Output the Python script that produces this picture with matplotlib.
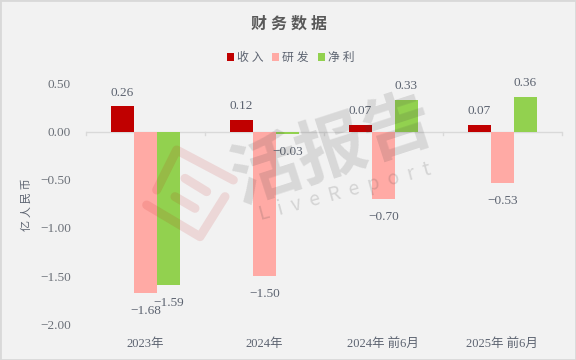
import matplotlib
matplotlib.use("Agg")
import matplotlib.pyplot as plt
import numpy as np
from matplotlib.lines import Line2D
from matplotlib.patches import Rectangle

categories = ['2023年', '2024年', '2024年 前6月', '2025年 前6月']
revenue = [0.26, 0.12, 0.07, 0.07]
rnd = [-1.68, -1.50, -0.70, -0.53]
profit = [-1.59, -0.03, 0.33, 0.36]
yticks = [0.5, 0.0, -0.5, -1.0, -1.5, -2.0]

W, H = 576, 360
BG = '#f2f2f2'
plt.rcParams['font.family'] = ['Liberation Serif', 'Noto Sans CJK SC', 'DejaVu Sans']

fig = plt.figure(figsize=(W / 100, H / 100), dpi=100, facecolor=BG)
fig.add_artist(Rectangle((0, 0), 1, 1, transform=fig.transFigure, fill=False, ec='#d9d9d9', lw=2))

# axes box in pixels
L, R, T, B = 86, 561.7, 83.3, 324.3
ax = fig.add_axes([L / W, 1 - B / H, (R - L) / W, (B - T) / H])
ax.set_facecolor('none')
ax.set_xlim(0, 4)
ax.set_ylim(-2, 0.5)
for s in ax.spines.values():
    s.set_visible(False)

x = np.arange(4) + 0.5
w = 0.193
series = [(revenue, '#c00000', -w), (rnd, '#ffaaa5', 0), (profit, '#92d14f', w)]
text_c = '#5c6370'
for vals, col, off in series:
    ax.bar(x + off, vals, w, color=col, zorder=2)

# axis line, ticks hang below zero
ax.axhline(0, color='#d9d9d9', lw=1, zorder=1)
for i in range(5):
    ax.plot([i, i], [0, -0.035], color='#d9d9d9', lw=1, zorder=1, clip_on=False)

for vals, col, off in series:
    for xi, v in zip(x + off, vals):
        s = f'{v:.2f}'.replace('-', '\u2212')
        dy = 13.5 if v >= 0 else -18
        ax.annotate(s, (xi, v), xytext=(0, dy), textcoords='offset pixels', ha='center', va='center',
                    fontsize=9.5, color=text_c, zorder=4)

ax.set_xticks([])
ax.set_yticks([])
for t in yticks:
    ax.annotate(f'{t:.2f}'.replace('-', '\u2212'), (0, t), xytext=(-15, -1.5), textcoords='offset pixels',
                ha='right', va='center', fontsize=9.5, color='#6b7078', annotation_clip=False)
for xi, c in zip(x, categories):
    fig.text((L + xi * (R - L) / 4) / W, 1 - 344 / H, c, ha='center', va='center',
             fontsize=9, color=text_c)

fig.text(27 / W, 1 - 205 / H, '亿 人 民 币', rotation=90, ha='center', va='center', fontsize=8, color=text_c)
fig.text(289 / W, 1 - 25 / H, '财 务 数 据', ha='center', va='center', fontsize=11.5, color='#595959',
         fontweight='bold')

# legend
for lx, col, name in [(227, '#c00000', '收 入'), (272, '#ffaaa5', '研 发'), (318, '#92d14f', '净 利')]:
    fig.add_artist(Rectangle((lx / W, 1 - 60.5 / H), 7 / W, 7 / H, transform=fig.transFigure, fc=col, ec='none'))
    fig.text((lx + 10) / W, 1 - 58 / H, name, ha='left', va='center', fontsize=8.5, color=text_c)

# watermark
wm = ['Noto Sans CJK SC', 'DejaVu Sans']
fig.text(332 / W, 1 - 150 / H, '活报告', rotation=18, ha='center', va='center', fontsize=50, family=wm,
         fontweight='bold', color='#404040', alpha=0.15, zorder=5)
fig.text(345 / W, 1 - 192 / H, 'L  i  v  e  R  e  p  o  r  t', rotation=15, ha='center', va='center', fontsize=14,
         family=wm, color='#404040', alpha=0.17, zorder=5)

strokes = [[(50, 300), (110, 180), (280, 270)],
           [(20, 345), (180, 440), (255, 320)],
           [(135, 265), (200, 305)],
           [(105, 320), (165, 355)]]
for st in strokes:
    xs = [(140 + p[0] / 3) / W for p in st]
    ys = [1 - (90 + p[1] / 3) / H for p in st]
    fig.add_artist(Line2D(xs, ys, transform=fig.transFigure, color='#c00000', alpha=0.11, lw=6.5,
                          solid_capstyle='round', solid_joinstyle='round', zorder=5))

fig.savefig('out.png', dpi=100, facecolor=BG)
